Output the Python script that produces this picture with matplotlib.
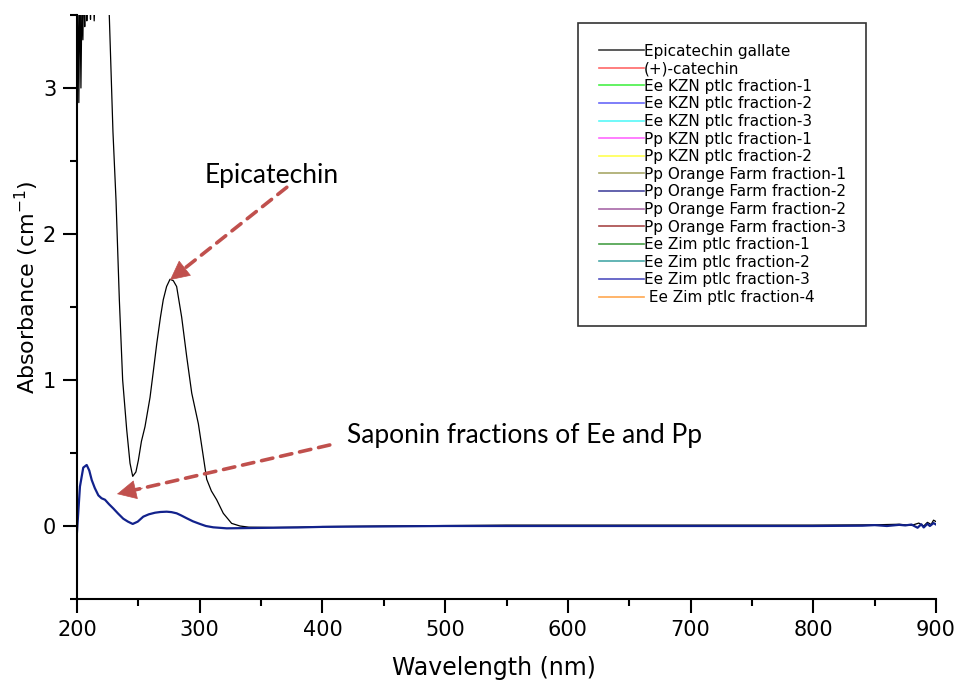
import matplotlib
matplotlib.use("Agg")
import matplotlib.pyplot as plt
from matplotlib.ticker import MultipleLocator

plt.rcParams["font.family"] = ["DejaVu Sans"]

# Epicatechin gallate spectrum
epi_nm = [200, 200.8, 201.5, 202.3, 203.2, 204.0, 204.8, 205.5, 206.3, 207.0,
          208.0, 209.5, 211.0, 212.5, 214.0, 216.0, 218.0, 222.0, 226.3, 229.3,
          231.8, 234.5, 237.2, 240.5, 243.2, 245.4, 248.0, 250.0, 252.5, 255.4,
          259.5, 262.5, 265.0, 268.0, 270.3, 273.0, 275.8, 278.5, 281.2, 285.3,
          289.4, 293.5, 298.9, 302.5, 305.7, 309.5, 313.8, 319.2, 326.0, 332.8,
          340, 360, 380, 400, 450, 500, 550, 600, 700, 800, 850, 870, 880,
          886, 890, 893, 896, 898, 900]
epi_abs = [2.83, 3.6, 2.9, 3.7, 3.0, 3.6, 3.33, 3.8, 3.42, 3.9,
           3.46, 3.9, 3.47, 3.9, 3.46, 3.9, 4.2, 4.6, 3.5, 2.7,
           2.23, 1.55, 1.0, 0.66, 0.43, 0.34, 0.37, 0.45, 0.58, 0.68,
           0.88, 1.08, 1.25, 1.43, 1.55, 1.64, 1.69, 1.68, 1.64, 1.43,
           1.16, 0.91, 0.70, 0.50, 0.32, 0.24, 0.18, 0.087, 0.018, 0.0,
           -0.008, -0.01, -0.008, -0.004, 0.0, 0.003, 0.006, 0.006, 0.006, 0.006, 0.008, 0.012, 0.004,
           0.02, 0.0, 0.025, 0.01, 0.04, 0.03]

# Saponin fractions of Ee and Pp (curves overlap)
sap_nm = [200, 202.4, 205.1, 207.9, 210.0, 212.0, 214.5, 217.4, 220.0, 222.8,
          226.0, 229.6, 233.5, 237.7, 241.5, 245.4, 249.5, 254.0, 258.5, 263.6,
          268.0, 273.1, 277.0, 281.2, 285.0, 289.4, 294.5, 300.2, 305.0, 311.0,
          322.0, 340, 360, 380, 400, 450, 500, 600, 700, 800, 840, 850, 860,
          870, 875, 880, 885, 888, 890, 893, 895, 898, 900]
sap_abs = [-0.04, 0.27, 0.40, 0.418, 0.38, 0.315, 0.26, 0.21, 0.19, 0.18,
           0.15, 0.12, 0.085, 0.05, 0.03, 0.014, 0.03, 0.064, 0.08, 0.091,
           0.096, 0.098, 0.095, 0.087, 0.072, 0.053, 0.032, 0.014, 0.0, -0.009,
           -0.016, -0.014, -0.012, -0.01, -0.006, -0.003, 0.0, 0.0, 0.0, 0.0, 0.002, 0.006, 0.0,
           0.008, 0.004, 0.01, -0.012, 0.012, -0.01, 0.015, 0.0, 0.02, 0.01]

legend_labels = ["Epicatechin gallate", "(+)-catechin", "Ee KZN ptlc fraction-1",
                 "Ee KZN ptlc fraction-2", "Ee KZN ptlc fraction-3", "Pp KZN ptlc fraction-1",
                 "Pp KZN ptlc fraction-2", "Pp Orange Farm fraction-1", "Pp Orange Farm fraction-2",
                 "Pp Orange Farm fraction-2", "Pp Orange Farm fraction-3", "Ee Zim ptlc fraction-1",
                 "Ee Zim ptlc fraction-2", "Ee Zim ptlc fraction-3", " Ee Zim ptlc fraction-4"]
legend_colors = ["#404040", "#ff6868", "#48f048", "#6868f8", "#58f8f8", "#ff68ff",
                 "#ffff50", "#a8a868", "#4848a0", "#a868a8", "#a84848", "#48a048",
                 "#48a8a8", "#5050c0", "#ffa850"]

fig = plt.figure(figsize=(9.56, 6.81), dpi=100)
ax = fig.add_axes([77 / 956, 82 / 681, 859 / 956, 584 / 681])

ax.plot(epi_nm, epi_abs, color="black", lw=0.9)
ax.plot(sap_nm, sap_abs, color="#12228c", lw=1.6)

handles = []
for lab, col in zip(legend_labels, legend_colors):
    h, = ax.plot([], [], color=col, lw=1.2, label=lab)
    handles.append(h)

ax.set_xlim(200, 900)
ax.set_ylim(-0.5, 3.5)
ax.xaxis.set_major_locator(MultipleLocator(100))
ax.xaxis.set_minor_locator(MultipleLocator(50))
ax.set_yticks([0, 1, 2, 3])
ax.yaxis.set_minor_locator(MultipleLocator(0.5))
for s in ["top", "right"]:
    ax.spines[s].set_visible(False)
for s in ["left", "bottom"]:
    ax.spines[s].set_linewidth(1.5)
ax.tick_params(which="major", direction="out", length=10, width=1.5, labelsize=15, pad=5)
ax.tick_params(which="minor", direction="out", length=5, width=1.5)

ax.set_ylabel("Absorbance (cm$^{-1}$)", fontsize=16, va="center")
ax.yaxis.set_label_coords(-0.058, 0.534)
ax.set_xlabel("Wavelength (nm)", fontsize=17, va="center")
ax.xaxis.set_label_coords(0.485, -0.118)

leg = ax.legend(handles=handles, loc="upper left", bbox_to_anchor=(578 / 956, 1 - 23 / 681),
                bbox_transform=fig.transFigure, borderaxespad=0, frameon=True, fancybox=False,
                edgecolor="black", fontsize=11, handlelength=2.95, handletextpad=0.0,
                labelspacing=0.17, borderpad=1.35)
leg.get_frame().set_linewidth(1.2)

red = "#c0504d"


def dashed_arrow(tip, tail):
    # dashed shaft, then a solid filled head at the tip
    ax.annotate("", xy=tip, xytext=tail,
                arrowprops=dict(arrowstyle="-", color=red, lw=2.6,
                                linestyle=(0, (3.2, 2.2)), shrinkA=0, shrinkB=12))
    back = (tip[0] + 0.12 * (tail[0] - tip[0]), tip[1] + 0.12 * (tail[1] - tip[1]))
    ax.annotate("", xy=tip, xytext=back,
                arrowprops=dict(arrowstyle="-|>,head_length=1.3,head_width=0.65", color=red,
                                lw=0.5, shrinkA=0, shrinkB=0))


dashed_arrow((275.8, 1.685), (371, 2.32))
dashed_arrow((232.6, 0.219), (406, 0.555))
ax.text(304.3, 2.40, "Epicatechin", fontsize=19, family="Lato", va="center", ha="left")
ax.text(420, 0.623, "Saponin fractions of Ee and Pp", fontsize=19, family="Lato",
        va="center", ha="left")

fig.savefig("out.png", dpi=100)
